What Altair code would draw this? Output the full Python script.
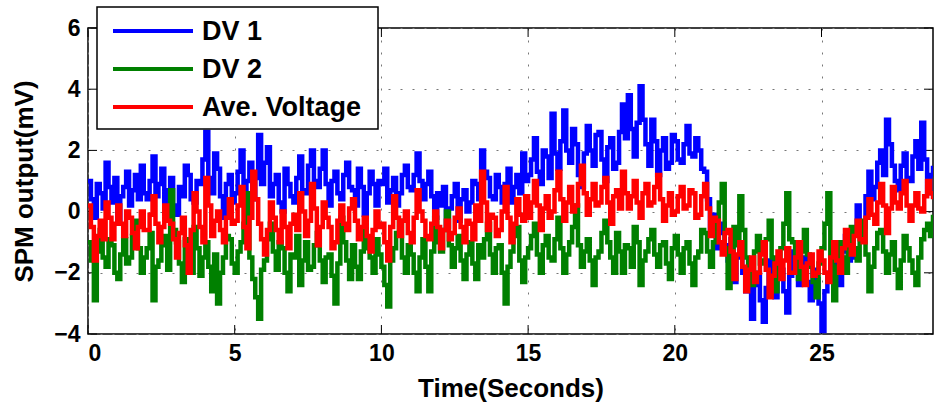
import altair as alt
import pandas as pd

# time axis (seconds), one sample every 0.1 s (0 .. 28.8 s)
time_s = [round(i * 0.1, 1) for i in range(289)]

dv1 = [
    1.0, 0.4, -0.2, 0.9, 0.6, 0.1, 1.6, 0.8, 0.3, 1.1,
    -0.3, 0.5, 0.8, 1.3, 0.2, 0.7, 1.2, 0.4, 1.5, 0.6,
    0.4, 1.0, 1.8, 0.5, 0.9, 1.4, 0.1, 0.7, 1.1, 0.2,
    -0.1, 0.8, 0.5, 1.5, 1.2, 0.4, 0.3, 1.0, 0.9, 1.7,
    2.6, 1.1, 0.6, 1.9, 1.4, 0.5, -0.2, 0.9, 1.2, 0.3,
    0.6, 1.3, 2.0, 0.7, 1.0, 1.6, 0.4, 1.1, 2.5, 0.9,
    1.6, 2.1, 0.5, 0.9, 1.2, 0.3, 0.0, 1.4, 0.9, 0.5,
    0.3, 1.1, 1.8, 0.7, 0.6, 1.5, 2.0, 1.0, 0.8, 1.4,
    2.0, 0.9, 0.2, 1.0, 1.3, 0.6, 0.4, 1.2, 1.6, 0.8,
    0.7, 0.2, 1.4, 0.8, -0.1, 0.6, 1.3, 0.9, 0.2, 1.0,
    0.9, 1.4, 0.3, 0.7, 1.1, 0.2, 0.6, 1.2, 1.5, 0.8,
    0.7, 1.2, 1.9, 1.0, 0.4, 0.9, 1.3, 0.5, -0.2, 0.6,
    0.2, 0.8, -0.5, 0.1, 0.5, 0.9, -0.3, 0.4, 0.7, 0.0,
    0.3, 1.0, 0.9, 0.4, 2.0, 1.3, 1.1, 0.5, 0.4, 1.2,
    0.8, 0.3, 0.9, 1.4, 0.3, 0.8, 1.2, 0.6, 1.9, 1.0,
    1.2, 1.7, 2.4, 1.3, 0.9, 2.0, 1.8, 1.1, 3.2, 1.9,
    1.4, 2.3, 3.3, 2.0, 1.6, 2.7, 2.2, 1.2, 0.8, 1.9,
    2.8, 2.0, 1.5, 2.5, 2.6, 1.7, 1.0, 2.1, 2.4, 1.4,
    1.6, 2.6, 3.5, 2.4, 3.8, 2.7, 1.8, 2.9, 4.1, 3.0,
    2.2, 1.5, 3.0, 2.3, 1.2, 2.0, 2.4, 1.4, 1.6, 2.5,
    2.3, 1.7, 1.6, 2.2, 2.8, 1.9, 1.8, 2.4, 2.0, 1.4,
    1.3, 0.4, -0.6, -0.1, -1.2, -0.7, -0.4, -1.1, -1.6, -0.9,
    -2.3, -1.5, -1.0, -2.0, -2.6, -1.8, -3.5, -2.4, -2.0, -2.9,
    -3.6, -2.5, -1.6, -2.2, -2.8, -2.0, -1.9, -2.6, -3.3, -2.1,
    -1.3, -2.0, -2.4, -1.7, -1.5, -2.3, -2.9, -1.9, -2.2, -3.0,
    -3.9, -2.6, -2.0, -1.5, -1.2, -2.0, -2.4, -1.3, -0.8, -1.6,
    -1.5, -0.6, 0.2, -0.4, -0.5, 0.5, 1.3, 0.4, 0.8, 1.6,
    2.0, 1.2, 3.0, 2.2, 1.5, 1.0, 0.7, 1.5, 1.9, 1.1,
    1.0, 1.8, 2.3, 1.4, 2.9, 1.7, 0.6, 1.2, 1.5,
]

dv2 = [
    -1.0, -1.6, -2.9, -1.3, -0.6, -1.5, -1.8, -0.9, -1.1, -2.0,
    -2.2, -1.4, -0.9, -1.7, -1.5, -0.8, -0.3, -1.2, -2.0, -1.5,
    -1.2, -0.7, -2.9, -1.8, -1.6, -1.1, -0.8, -1.9, 0.7, -0.6,
    -1.0, -1.7, -2.3, -0.9, -1.4, -2.0, -0.5, -1.2, -2.1, -1.5,
    -1.0, -1.8, -2.6, -1.4, -3.0, -2.0, -1.5, -0.8, -0.9, -1.7,
    -2.0, -1.3, -1.0, -0.4, 0.6, -1.5, -2.2, -2.8, -3.5, -1.9,
    -1.6, -0.9, -0.4, -1.3, -1.9, -1.0, -1.2, -2.0, -2.6, -1.4,
    -1.5, -0.8, -2.4, -1.6, -1.0, -1.9, -1.8, -1.1, -0.7, -1.6,
    -2.3, -1.5, -1.4, -2.1, -3.0, -1.7, -0.2, -1.0, -1.6, -2.2,
    -1.1, -1.8, -2.2, -1.3, -0.6, -1.2, -1.5, -2.0, -0.9, -1.4,
    -1.8, -2.4, -3.1, -1.6, -1.2, -0.7, -0.3, -1.5, -2.0, -1.1,
    -1.4, -2.0, -2.6, -1.5, -0.9, -1.8, -2.6, -1.3, -0.2, -1.0,
    -1.3, -0.6, 0.0, -1.1, -1.8, -1.2, -0.8, -1.6, -2.2, -1.4,
    -1.0, -1.7, -2.2, -1.1, -1.5, -0.9, -0.4, -1.4, -2.0, -1.2,
    -1.1, -2.0, -3.0, -1.8, -1.3, -0.8, -0.5, -1.6, -2.3, -1.5,
    -1.2, -0.8, -0.4, -1.4, -2.0, -1.1, -0.8, -1.5, -1.6, -0.9,
    -0.2, -1.2, -2.0, -1.4, -1.0, -0.5, 0.2, -1.1, -1.8, -1.3,
    -0.9, -1.6, -2.4, -1.5, -1.3, -0.7, -0.3, -1.0, -1.5, -2.0,
    -0.7, -1.3, -2.0, -1.1, -1.2, -1.8, -0.5, -1.0, -2.4, -1.6,
    -1.3, -0.9, -0.6, -1.4, -1.8, -1.1, -1.0, -1.7, -2.2, -1.2,
    -0.8, -1.4, -2.0, -1.2, -1.0, -1.7, -2.4, -1.5, -1.3, -0.6,
    -0.7, -1.3, -1.8, -1.0, -0.4, 0.3, 0.9, -1.2, -2.5, -1.4,
    -0.5, -1.1, 0.5, -0.6, -1.5, -2.0, -2.4, -1.3, -0.8, -1.7,
    -1.6, -0.9, -0.3, -1.5, -2.6, -1.8, -1.2, -0.4, 0.6, -0.9,
    -1.0, -1.6, -2.2, -1.3, -0.6, -1.4, -1.8, -2.3, -2.8, -1.7,
    -1.2, -0.4, 0.6, -1.6, -2.9, -1.8, -1.0, -1.5, -2.0, -1.2,
    -0.5, -1.2, -1.6, -0.9, -0.3, -1.4, -2.6, -1.8, -1.2, -0.7,
    -0.6, -1.3, -2.0, -1.4, -1.0, -1.9, -2.5, -1.6, -0.8, -1.2,
    -1.6, -2.0, -2.4, -1.5, -0.9, -0.6, -0.4, -0.8, -0.1,
]

ave = [
    0.2, -0.5, -1.6, -0.8, -0.3, -0.9, 0.3, -0.2, -0.9, -0.4,
    0.2, -0.4, -0.8, 0.0, -0.2, -0.7, -1.2, -0.5, 0.0, -0.6,
    -0.6, -0.1, 0.5, -0.4, -1.0, -0.5, 0.2, -0.3, -0.4, -0.9,
    -1.5, -0.7, -0.2, -1.1, -2.0, -0.6, 0.6, 0.0, -0.5, -1.0,
    1.1, 0.2, -0.8, -0.3, 0.0, -0.6, -1.0, -0.2, 0.4, -0.4,
    -0.3, 0.2, 0.8, -0.5, -1.2, -0.2, 1.3, 0.4, -0.4, -0.9,
    -1.4, -0.6, 0.3, -0.2, -0.6, -1.0, 0.0, -0.5, -1.2, -0.4,
    -0.1, -0.6, 0.6, 0.0, -0.8, -0.3, 0.9, 0.1, -1.1, -0.5,
    0.3, -0.2, -0.5, -1.2, -1.0, -0.3, 0.2, -0.4, -0.6, 0.1,
    0.4, -0.3, -0.9, -0.5, -0.2, -0.8, -1.3, -0.6, 0.0, -0.5,
    -0.4, -1.0, -1.6, -0.5, 0.5, -0.2, -0.8, -0.3, 0.0, -0.7,
    -1.0, -0.2, 0.7, 0.0, -0.3, -0.8, -0.9, -0.4, 0.0, -0.5,
    -1.2, -0.6, -0.3, -0.9, -0.7, -0.2, 0.1, -0.5, -1.0, -0.3,
    -0.4, -0.9, 0.2, -0.3, 1.3, 0.3, -0.6, -0.1, -0.2, -0.8,
    -0.6, 0.0, 0.8, -0.2, -1.0, -0.4, 0.4, -0.1, -0.3, 0.5,
    -0.2, 0.3, 1.0, 0.2, -0.6, 0.1, 0.5, -0.2, 0.0, 0.7,
    1.3, 0.4, -0.3, 0.3, 0.8, 0.0, 0.2, 0.9, 1.5, 0.6,
    -0.1, 0.4, 0.9, 0.2, 0.3, 0.8, 1.1, 0.3, -0.4, 0.5,
    0.7, 0.1, 1.3, 0.6, 0.1, 0.5, 1.0, 0.3, -0.2, 0.6,
    0.9, 0.2, 0.3, 0.8, 1.2, 0.4, -0.3, 0.2, 0.6, -0.1,
    0.0, 0.5, 0.8, 0.1, 0.2, 0.7, 0.6, -0.2, -0.1, 0.5,
    0.9, 0.1, -0.8, -0.2, -0.3, -1.0, -1.4, -0.7, -0.6, -1.3,
    -2.2, -1.4, -1.0, -1.8, -2.6, -1.9, -1.5, -2.3, -2.0, -1.4,
    -1.0, -1.9, -2.8, -2.1, -1.7, -1.3, -2.2, -1.6, -1.2, -2.0,
    -2.0, -1.5, -1.0, -1.8, -2.4, -1.7, -1.4, -2.1, -2.0, -1.3,
    -1.6, -2.0, -2.3, -1.5, -1.0, -1.6, -2.0, -1.2, -0.6, -1.1,
    -1.4, -0.8, -0.3, -0.9, -1.0, -0.2, 0.4, -0.1, -0.4, 0.3,
    0.9, 0.2, -0.7, 0.1, 0.8, 0.3, 0.1, 0.6, 1.0, 0.2,
    -0.3, 0.2, 0.6, 0.1, 0.0, 0.5, 1.0, 0.6, 0.4,
]

series_names = ["DV 1", "DV 2", "Ave. Voltage"]
series_colors = ["#0000ff", "#008000", "#ff0000"]
x_ticks = [0, 5, 10, 15, 20, 25]
y_ticks = [-4, -2, 0, 2, 4, 6]

W, H = 845, 306
FONT = "Liberation Sans"

frames = []
for name, vals in zip(series_names, [dv1, dv2, ave]):
    frames.append(pd.DataFrame({"t": time_s, "v": vals, "series": name}))
df = pd.concat(frames, ignore_index=True)

xscale = alt.Scale(domain=[0, 28.8], nice=False, zero=False)
yscale = alt.Scale(domain=[-4, 6], nice=False, zero=False)
color = alt.Color(
    "series:N",
    scale=alt.Scale(domain=series_names, range=series_colors),
    legend=None,
)

base = alt.Chart(df)
lines = []
for name in series_names:
    lines.append(
        base.transform_filter(alt.datum.series == name)
        .mark_line(strokeWidth=4.5, interpolate="step-after", clip=True)
        .encode(
            x=alt.X(
                "t:Q",
                scale=xscale,
                axis=alt.Axis(
                    values=x_ticks,
                    title="Time(Seconds)",
                    grid=True,
                    ticks=False,
                    labelPadding=8,
                    titlePadding=10,
                ),
            ),
            y=alt.Y(
                "v:Q",
                scale=yscale,
                axis=alt.Axis(
                    values=y_ticks,
                    title="SPM output(mV)",
                    grid=True,
                    ticks=False,
                    labelPadding=8,
                    titlePadding=16,
                ),
            ),
            color=color,
        )
    )

xt = pd.DataFrame({"t": x_ticks})
yt = pd.DataFrame({"v": y_ticks})
tick_layers = [
    alt.Chart(xt).mark_rule(color="black", strokeWidth=1).encode(
        x=alt.X("t:Q", scale=xscale), y=alt.value(H), y2=alt.value(H - 9)),
    alt.Chart(xt).mark_rule(color="black", strokeWidth=1).encode(
        x=alt.X("t:Q", scale=xscale), y=alt.value(0), y2=alt.value(9)),
    alt.Chart(yt).mark_rule(color="black", strokeWidth=1).encode(
        y=alt.Y("v:Q", scale=yscale), x=alt.value(0), x2=alt.value(9)),
    alt.Chart(yt).mark_rule(color="black", strokeWidth=1).encode(
        y=alt.Y("v:Q", scale=yscale), x=alt.value(W), x2=alt.value(W - 9)),
]

# hand-made legend box (legend sits partly above the plot area, as in the original)
leg_df = pd.DataFrame({"series": series_names})
legend_layers = [
    alt.Chart(leg_df).mark_rect(fill="white", stroke="black", strokeWidth=1.5).encode(
        x=alt.value(9), x2=alt.value(290), y=alt.value(-21), y2=alt.value(101)
    ).transform_filter(alt.datum.series == series_names[0])
]
row_y = [3, 41, 79]
for name, col, ry in zip(series_names, series_colors, row_y):
    legend_layers.append(
        alt.Chart(leg_df).transform_filter(alt.datum.series == name)
        .mark_rule(color=col, strokeWidth=4)
        .encode(x=alt.value(25), x2=alt.value(105), y=alt.value(ry))
    )
    legend_layers.append(
        alt.Chart(leg_df).transform_filter(alt.datum.series == name)
        .mark_text(font=FONT, fontSize=27, fontWeight="bold", color="black",
                   align="left", baseline="middle")
        .encode(text="series:N", x=alt.value(114), y=alt.value(ry + 1))
    )

chart = (
    alt.layer(*tick_layers, *lines, *legend_layers)
    .properties(
        width=W,
        height=H,
        autosize=alt.AutoSizeParams(type="none"),
        padding={"left": 88, "top": 28, "right": 1, "bottom": 76},
        background="white",
    )
    .configure_view(stroke="black", strokeWidth=1.5)
    .configure_axis(
        domain=False,
        labelFont=FONT,
        labelFontSize=23,
        labelFontWeight="bold",
        labelColor="black",
        titleFont=FONT,
        titleFontSize=26,
        titleFontWeight="bold",
        titleColor="black",
        gridColor="#777777",
        gridDash=[2, 10],
        gridWidth=1,
    )
)

chart.save("out.html", embed_options={"renderer": "svg", "actions": False})
